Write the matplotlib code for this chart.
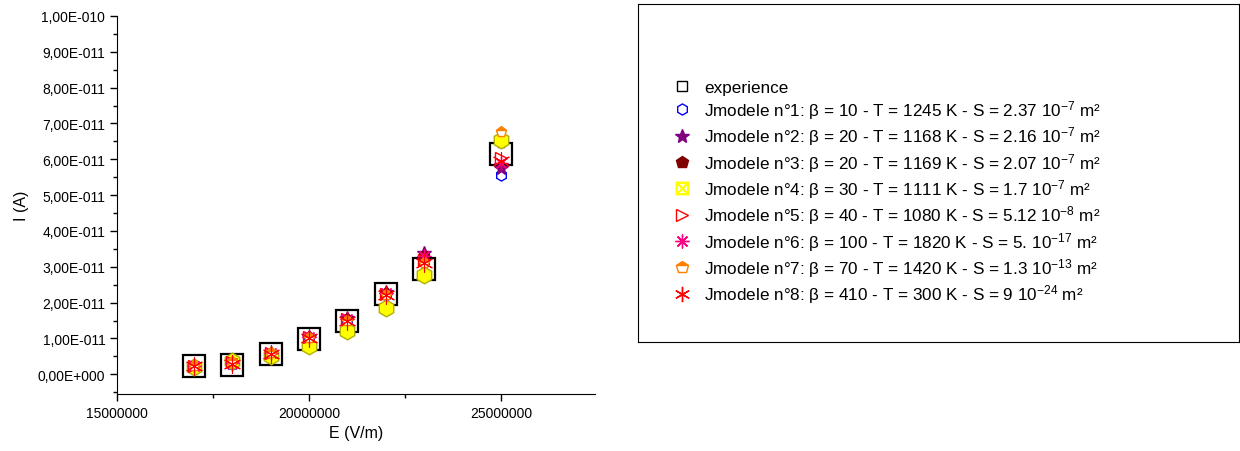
import numpy as np
import matplotlib
matplotlib.use("Agg")
import matplotlib.pyplot as plt
from matplotlib.lines import Line2D
from matplotlib.ticker import FuncFormatter, MultipleLocator

plt.rcParams['font.family'] = ['Liberation Sans', 'DejaVu Sans']
plt.rcParams['mathtext.fontset'] = 'custom'
plt.rcParams['mathtext.rm'] = 'Liberation Sans'
plt.rcParams['mathtext.it'] = 'Liberation Sans'

# E field (V/m)
E = [17e6, 18e6, 19e6, 20e6, 21e6, 22e6, 23e6, 25e6]

# currents in units of 1e-11 A
exp_I = [0.22, 0.25, 0.56, 0.98, 1.50, 2.23, 2.93, 6.14]
m1 = [0.20, 0.30, 0.58, 1.02, 1.52, 2.22, 3.15, 5.55]
m2 = [0.22, 0.32, 0.60, 1.05, 1.56, 2.30, 3.38, 5.75]
m3 = [0.22, 0.33, 0.60, 1.05, 1.55, 2.28, 3.30, 6.45]
m4 = [0.20, 0.36, 0.52, 0.80, 1.22, 1.84, 2.78, 6.55]
m5 = [0.22, 0.33, 0.60, 1.04, 1.53, 2.25, 3.20, 6.05]
m6 = [0.22, 0.32, 0.60, 1.05, 1.55, 2.28, 3.30, 5.90]
m7 = [0.22, 0.34, 0.60, 1.02, 1.48, 2.20, 3.10, 6.75]
m8 = [0.22, 0.30, 0.58, 1.02, 1.50, 2.20, 3.10, 5.95]

labels = [
    "experience",
    r"Jmodele n°1: β = 10 - T = 1245 K - S = 2.37 10$^{-7}$ m²",
    r"Jmodele n°2: β = 20 - T = 1168 K - S = 2.16 10$^{-7}$ m²",
    r"Jmodele n°3: β = 20 - T = 1169 K - S = 2.07 10$^{-7}$ m²",
    r"Jmodele n°4: β = 30 - T = 1111 K - S = 1.7 10$^{-7}$ m²",
    r"Jmodele n°5: β = 40 - T = 1080 K - S = 5.12 10$^{-8}$ m²",
    r"Jmodele n°6: β = 100 - T = 1820 K - S = 5. 10$^{-17}$ m²",
    r"Jmodele n°7: β = 70 - T = 1420 K - S = 1.3 10$^{-13}$ m²",
    r"Jmodele n°8: β = 410 - T = 300 K - S = 9 10$^{-24}$ m²",
]


def fmt(v, pos):
    if abs(v) < 1e-20:
        return "0,00E+000"
    e = int(np.floor(np.log10(abs(v)) + 1e-9))
    m = v / 10**e
    s = "+" if e >= 0 else "-"
    return f"{m:.2f}".replace(".", ",") + f"E{s}{abs(e):03d}"


fig = plt.figure(figsize=(12.4, 4.52), dpi=100)
ax = fig.add_axes([0.0944, 0.1261, 0.3855, 0.8363])

sc = 1e-11
styles = [
    dict(marker='h', ms=8, mfc='none', mec='#0000ff', mew=1.0),
    dict(marker='*', ms=10, mfc='#800080', mec='#800080'),
    dict(marker='p', ms=8, mfc='#800000', mec='#800000'),
    dict(marker='h', ms=12, mfc='#ffff00', mec='#b0b000', mew=1.0),
    dict(marker='>', ms=8, mfc='none', mec='#ff0000', mew=1.0),
    dict(marker=(8, 2, 0), ms=10, mfc='none', mec='#ff0080', mew=0.9),
    dict(marker='p', ms=8, mfc='#ff8000', mec='#ff8000', fillstyle='top', mfcalt='white'),
    dict(marker=(6, 2, 0), ms=13, mfc='none', mec='#ff0000', mew=0.8),
]
models = [m1, m2, m3, m4, m5, m6, m7, m8]

ax.plot(E, np.array(exp_I) * sc, ls='none', marker='s', ms=16, mfc='none',
        mec='black', mew=1.6, zorder=2)
for ys, st in zip(models, styles):
    ax.plot(E, np.array(ys) * sc, ls='none', zorder=3, **st)

ax.set_xlim(15e6, 27.45e6)
ax.set_ylim(-5.5e-12, 1.0e-10)
ax.xaxis.set_major_locator(MultipleLocator(5e6))
ax.xaxis.set_minor_locator(MultipleLocator(2.5e6))
ax.yaxis.set_major_locator(MultipleLocator(1e-11))
ax.yaxis.set_minor_locator(MultipleLocator(5e-12))
ax.yaxis.set_major_formatter(FuncFormatter(fmt))
ax.xaxis.set_major_formatter(FuncFormatter(lambda v, p: f"{int(round(v))}"))
ax.spines['top'].set_visible(False)
ax.spines['right'].set_visible(False)
ax.tick_params(which='major', length=5, width=1, labelsize=10, direction='out')
ax.tick_params(which='minor', length=3, width=1, direction='out')
ax.set_xlabel("E (V/m)", fontsize=11.5, labelpad=4)
ax.set_ylabel("I (A)", fontsize=11.5, labelpad=6)

# legend box
lax = fig.add_axes([0.5145, 0.2412, 0.4847, 0.748])
lax.set_xticks([])
lax.set_yticks([])
for sp in lax.spines.values():
    sp.set_linewidth(0.8)

leg_styles = [dict(marker='s', ms=7, mfc='none', mec='black', mew=1.0)] + [
    dict(marker='h', ms=8, mfc='none', mec='#0000ff', mew=1.0),
    dict(marker='*', ms=10, mfc='#800080', mec='#800080'),
    dict(marker='p', ms=9, mfc='#800000', mec='#800000'),
    dict(marker=r'$\boxtimes$', ms=9, mfc='#ffff00', mec='#ffff00'),
    dict(marker='>', ms=8, mfc='none', mec='#ff0000', mew=1.0),
    dict(marker=(8, 2, 0), ms=10, mfc='none', mec='#ff0080', mew=1.0),
    dict(marker='p', ms=9, mfc='#ff8000', mec='#ff8000', fillstyle='top', mfcalt='white'),
    dict(marker=(6, 2, 0), ms=11, mfc='none', mec='#ff0000', mew=1.0),
]
handles = [Line2D([], [], ls='none', **st) for st in leg_styles]
lax.legend(handles, labels, loc='upper left', bbox_to_anchor=(0.04, 0.796),
           frameon=False, fontsize=12.3, labelspacing=0.2, handlelength=1.5,
           handletextpad=0.55, borderaxespad=0)

fig.savefig("out.png", dpi=100)
